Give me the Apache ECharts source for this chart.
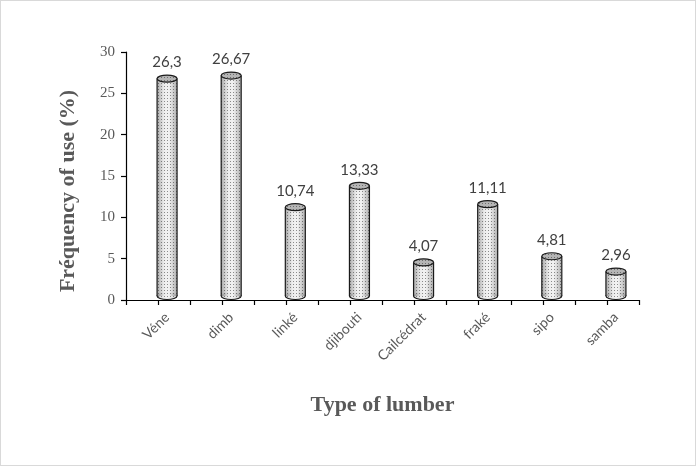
<!DOCTYPE html>
<html>
<head>
<meta charset="utf-8">
<script src="https://cdn.jsdelivr.net/npm/echarts@6/dist/echarts.min.js"></script>
<style>
  html, body { margin: 0; padding: 0; background: #fff; }
  #chart { width: 694px; height: 464px; border: 1px solid #d9d9d9; }
</style>
</head>
<body>
<div id="chart"></div>
<script>
// Lumber types and their frequency of use (%)
const categories = ['Véne', 'dimb', 'linké', 'djibouti', 'Cailcédrat', 'fraké', 'sipo', 'samba'];
const frequency = [26.3, 26.67, 10.74, 13.33, 4.07, 11.11, 4.81, 2.96];
const yTicks = { min: 0, max: 30, step: 5 };

// Half-category tick positions along the category axis
const halfSlots = categories.flatMap(c => [c + '#a', c + '#b']);

// Stippled fill used on the cylinders
function dotPattern(bg, dot) {
  const c = document.createElement('canvas');
  c.width = 3; c.height = 3;
  const g = c.getContext('2d');
  g.fillStyle = bg; g.fillRect(0, 0, 3, 3);
  g.fillStyle = dot; g.fillRect(1, 1, 1, 1);
  return { image: c, repeat: 'repeat' };
}
const bodyFill = dotPattern('#f2f2f2', '#8c8c8c');
const capFill = dotPattern('#b5b5b5', '#6e6e6e');

const fmt = v => String(v).replace('.', ',');

// Cylinders are drawn with a small depth shift to the right and up
const DEPTH_X = 9, DEPTH_Y = -4;

function renderCylinder(params, api) {
  const idx = api.value(0);
  const val = api.value(1);
  const top = api.coord([idx, val]);
  const base = api.coord([idx, 0]);
  const rx = 10, ry = 3.5;
  const cx = top[0] + DEPTH_X;
  const yt = top[1] + DEPTH_Y;
  const yb = base[1] + DEPTH_Y;
  const shade = {
    type: 'linear', x: 0, y: 0, x2: 1, y2: 0,
    colorStops: [
      { offset: 0, color: 'rgba(0,0,0,0.30)' },
      { offset: 0.35, color: 'rgba(0,0,0,0.02)' },
      { offset: 0.6, color: 'rgba(0,0,0,0.0)' },
      { offset: 1, color: 'rgba(0,0,0,0.28)' }
    ]
  };
  const line = { stroke: '#1a1a1a', lineWidth: 1.2 };
  return {
    type: 'group',
    children: [
      { type: 'ellipse', shape: { cx: cx, cy: yb, rx: rx, ry: ry }, style: Object.assign({ fill: bodyFill }, line) },
      { type: 'rect', shape: { x: cx - rx, y: yt, width: rx * 2, height: yb - yt }, style: { fill: bodyFill } },
      { type: 'rect', shape: { x: cx - rx, y: yt, width: rx * 2, height: yb - yt }, style: { fill: shade } },
      { type: 'ellipse', shape: { cx: cx, cy: yb, rx: rx, ry: ry }, style: { fill: shade, opacity: 0.6 } },
      { type: 'line', shape: { x1: cx - rx, y1: yt, x2: cx - rx, y2: yb }, style: line },
      { type: 'line', shape: { x1: cx + rx, y1: yt, x2: cx + rx, y2: yb }, style: line },
      { type: 'ellipse', shape: { cx: cx, cy: yt, rx: rx, ry: ry }, style: Object.assign({ fill: capFill }, line) },
      {
        type: 'text',
        style: {
          x: cx, y: yt - 16, text: fmt(val),
          align: 'center', verticalAlign: 'middle',
          fill: '#404040', font: '15px Lato, "Open Sans", sans-serif'
        }
      }
    ]
  };
}

const PLOT = { left: 125, right: 56, top: 51, bottom: 165 };

const chart = echarts.init(document.getElementById('chart'), null, { renderer: 'canvas' });
chart.setOption({
  backgroundColor: '#ffffff',
  animation: false,
  grid: [
    PLOT,
    // label grid: same plot shifted by the cylinder depth so labels sit under the bars
    { left: PLOT.left + DEPTH_X, right: PLOT.right - DEPTH_X, top: PLOT.top, bottom: PLOT.bottom }
  ],
  xAxis: [
    {
      type: 'category',
      gridIndex: 0,
      data: categories,
      position: 'bottom',
      name: 'Type of lumber',
      nameLocation: 'middle',
      nameGap: 94,
      nameTextStyle: { fontFamily: '"Liberation Serif", serif', fontWeight: 'bold', fontSize: 22, color: '#595959' },
      axisLine: { show: true, lineStyle: { color: '#000', width: 1.2 } },
      axisTick: { show: false },
      axisLabel: { show: false },
      splitLine: { show: false }
    },
    {
      type: 'category',
      gridIndex: 0,
      data: halfSlots,
      position: 'bottom',
      axisLine: { show: false },
      axisTick: { show: true, length: 5, interval: 0, lineStyle: { color: '#000', width: 1.2 } },
      axisLabel: { show: false },
      splitLine: { show: false }
    },
    {
      type: 'category',
      gridIndex: 1,
      data: categories,
      position: 'bottom',
      axisLine: { show: false },
      axisTick: { show: false },
      axisLabel: {
        rotate: 45, margin: 15, interval: 0,
        fontFamily: 'Lato, "Open Sans", sans-serif', fontSize: 14, color: '#595959'
      },
      splitLine: { show: false }
    }
  ],
  yAxis: [
    {
      type: 'value',
      gridIndex: 0,
      min: yTicks.min, max: yTicks.max, interval: yTicks.step,
      name: 'Fréquency of use (%)',
      nameLocation: 'middle',
      nameGap: 47,
      nameTextStyle: {
        fontFamily: '"Liberation Serif", serif', fontWeight: 'bold', fontSize: 22, color: '#595959',
        padding: [0, 30, 0, 0]
      },
      axisLine: { show: true, lineStyle: { color: '#000', width: 1.2 } },
      axisTick: { show: true, length: 5, lineStyle: { color: '#000', width: 1.2 } },
      axisLabel: { margin: 11, fontFamily: '"Liberation Serif", serif', fontSize: 15, color: '#595959' },
      splitLine: { show: false }
    },
    {
      type: 'value',
      gridIndex: 1,
      min: yTicks.min, max: yTicks.max,
      show: false
    }
  ],
  series: [{
    type: 'custom',
    xAxisIndex: 0,
    yAxisIndex: 0,
    renderItem: renderCylinder,
    data: frequency.map((v, i) => [i, v]),
    clip: false
  }]
});
</script>
</body>
</html>
